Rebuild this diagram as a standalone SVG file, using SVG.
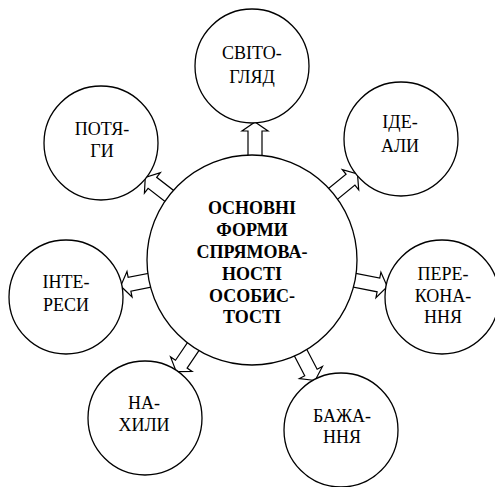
<svg xmlns="http://www.w3.org/2000/svg" width="495" height="487" viewBox="0 0 495 487">
<style>
.c{fill:#fff;stroke:#000;stroke-width:1.3}
.a{fill:#fff;stroke:#000;stroke-width:1.2;stroke-linejoin:miter}
text{font-family:'Liberation Serif','Times New Roman',serif;font-size:18px;text-anchor:middle;fill:#000}
.b{font-weight:bold}
</style>
<rect width="495" height="487" fill="#fff"/>
<g id="connectors">
<polygon class="a" transform="translate(255,162) rotate(-90)" points="0,-7 31,-7 31,-13 40,0 31,13 31,7 0,7"/>
<polygon class="a" transform="translate(328,198) rotate(-39.1)" points="0,-7 29,-7 29,-13 38,0 29,13 29,7 0,7"/>
<polygon class="a" transform="translate(348,279) rotate(11)" points="0,-7 31,-7 31,-13 40,0 31,13 31,7 0,7"/>
<polygon class="a" transform="translate(297.5,346.8) rotate(62.4)" points="0,-7 29,-7 29,-13 38,0 29,13 29,7 0,7"/>
<polygon class="a" transform="translate(197,341) rotate(124.1)" points="0,-7 28,-7 28,-13 37,0 28,13 28,7 0,7"/>
<polygon class="a" transform="translate(156,279) rotate(168.75)" points="0,-7 27,-7 27,-13 36,0 27,13 27,7 0,7"/>
<polygon class="a" transform="translate(174.5,200) rotate(-142.2)" points="0,-7 28,-7 28,-13 37,0 28,13 28,7 0,7"/>
</g>
<g id="center">
<circle class="c" cx="252" cy="260" r="105"/>
<text class="b" x="252" y="214">ОСНОВНІ</text>
<text class="b" x="252" y="236">ФОРМИ</text>
<text class="b" x="252" y="258">СПРЯМОВА-</text>
<text class="b" x="252" y="280">НОСТІ</text>
<text class="b" x="252" y="302">ОСОБИС-</text>
<text class="b" x="252" y="323">ТОСТІ</text>
</g>
<g id="svitogliad">
<circle class="c" cx="252" cy="66" r="57"/>
<text x="252" y="59">СВІТО-</text>
<text x="252" y="83">ГЛЯД</text>
</g>
<g id="idealy">
<circle class="c" cx="401" cy="139" r="57"/>
<text x="400" y="128">ІДЕ-</text>
<text x="400" y="152">АЛИ</text>
</g>
<g id="perekonannia">
<circle class="c" cx="442" cy="297" r="57"/>
<text x="443" y="280">ПЕРЕ-</text>
<text x="443" y="302">КОНА-</text>
<text x="443" y="323">ННЯ</text>
</g>
<g id="bazhannia">
<circle class="c" cx="341" cy="430" r="57"/>
<text x="342" y="422">БАЖА-</text>
<text x="342" y="443">ННЯ</text>
</g>
<g id="nakhyly">
<circle class="c" cx="145" cy="418" r="57"/>
<text x="144" y="409">НА-</text>
<text x="144" y="431">ХИЛИ</text>
</g>
<g id="interesy">
<circle class="c" cx="66" cy="297" r="57"/>
<text x="66" y="288">ІНТЕ-</text>
<text x="66" y="311">РЕСИ</text>
</g>
<g id="potiahy">
<circle class="c" cx="101" cy="143" r="57"/>
<text x="102" y="135">ПОТЯ-</text>
<text x="102" y="157">ГИ</text>
</g>
</svg>
